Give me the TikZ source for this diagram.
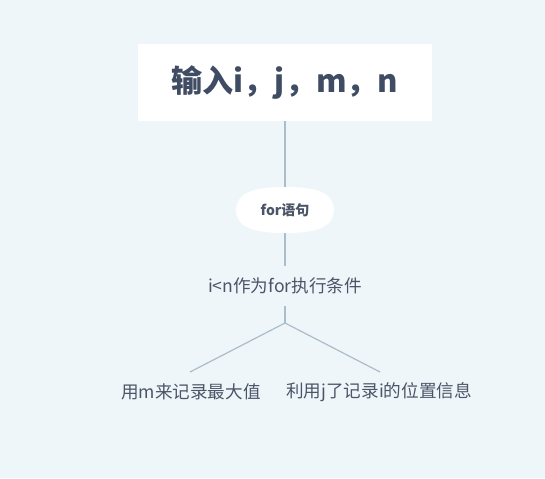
\documentclass[tikz,border=0pt]{standalone}
\usepackage{fontspec}
\setmainfont{Noto Sans CJK SC}
\definecolor{bgc}{HTML}{EFF6FA}
\definecolor{txc}{HTML}{4B5567}
\definecolor{ttc}{HTML}{3F4C63}
\definecolor{lnc}{HTML}{AABDCB}
\tikzset{
  link/.style={draw=lnc, line width=0.9pt},
  title/.style={fill=white, text=ttc, minimum width=294*0.75pt, minimum height=77*0.75pt, inner sep=0pt, font=\bfseries\fontsize{23.3}{28}\selectfont},
  plain/.style={text=txc, inner sep=1pt, font=\fontsize{13.2}{16}\selectfont},
  ovaltext/.style={text=txc, inner sep=0pt, font=\bfseries\fontsize{10.5}{13}\selectfont, minimum width=98*0.75pt, minimum height=46*0.75pt},
}
\begin{document}
\begin{tikzpicture}[x=0.75pt,y=-0.75pt]
\fill[bgc] (0,0) rectangle (545,478);
\useasboundingbox (0,0) rectangle (545,478);
% nodes
\node[title] (in) at (285,82.5) {输入i，j，m，n};
\node[ovaltext] (for) at (285,210) {};
\node[plain] (cond) at (285,286) {i<n作为for执行条件};
\node[plain] (left) at (191,392) {用m来记录最大值};
\node[plain] (right) at (379,392) {利用j了记录i的位置信息};
\coordinate (c1) at (285,266);
\coordinate (c2) at (285,306);
\coordinate (j) at (285,323);
\coordinate (l1) at (190,372);
\coordinate (r1) at (380,372);
% connectors
\draw[link] (in.south) -- (for.north);
\draw[link] (for.south) -- (c1);
\draw[link] (c2) -- (j);
\draw[link] (j) -- (l1);
\draw[link] (j) -- (r1);
% oval shape
\fill[white] (236,210) .. controls (237,193) and (252,187) .. (285,187)
  .. controls (318,187) and (333,193) .. (334,210)
  .. controls (333,227) and (318,233) .. (285,233)
  .. controls (252,233) and (237,227) .. (236,210) -- cycle;
\node[ovaltext] at (for.center) {for语句};
\end{tikzpicture}
\end{document}
